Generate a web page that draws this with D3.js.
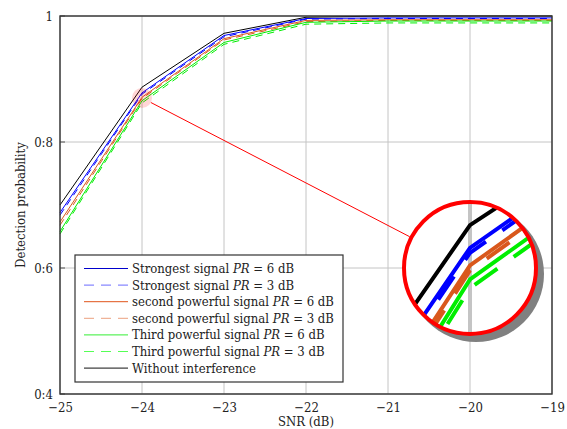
<!DOCTYPE html>
<html>
<head>
<meta charset="utf-8">
<script src="https://cdn.jsdelivr.net/npm/d3@7/dist/d3.min.js"></script>
<style>
  html, body { margin: 0; padding: 0; background: #fff; }
  svg { display: block; }
</style>
</head>
<body>
<svg id="chart" width="567" height="429" font-family="'DejaVu Serif Condensed', 'DejaVu Serif', serif"></svg>
<script>
// SNR values (dB) on the x axis
const snr = [-25, -24, -23, -22, -21, -20, -19];

// Detection probability for each scenario
const pdStrong6  = [0.688, 0.878, 0.969, 0.996, 0.997, 0.997, 0.997];
const pdStrong3  = [0.684, 0.876, 0.967, 0.995, 0.996, 0.996, 0.996];
const pdSecond6  = [0.673, 0.871, 0.964, 0.993, 0.994, 0.994, 0.994];
const pdSecond3  = [0.668, 0.869, 0.962, 0.991, 0.993, 0.993, 0.993];
const pdThird6   = [0.658, 0.8655, 0.958, 0.990, 0.992, 0.992, 0.992];
const pdThird3   = [0.654, 0.862, 0.955, 0.987, 0.989, 0.989, 0.989];
const pdNoInterf = [0.700, 0.887, 0.9725, 0.998, 1.000, 1.000, 1.000];

const seriesNames = [
  ["Strongest signal ", "PR", " = 6 dB"],
  ["Strongest signal ", "PR", " = 3 dB"],
  ["second powerful signal ", "PR", " = 6 dB"],
  ["second powerful signal ", "PR", " = 3 dB"],
  ["Third powerful signal ", "PR", " = 6 dB"],
  ["Third powerful signal ", "PR", " = 3 dB"],
  ["Without interference", "", ""]
];
const seriesValues = [pdStrong6, pdStrong3, pdSecond6, pdSecond3, pdThird6, pdThird3, pdNoInterf];
const seriesColors = ["#0000ff", "#0000ff", "#d9581c", "#d9581c", "#00ee00", "#00ee00", "#000000"];
const legendColors = ["#0000cc", "#6a6aff", "#e0541b", "#eba07f", "#33ee33", "#55ff55", "#111111"];
const seriesDashed = [false, true, false, true, false, true, false];

const xTicks = [-25, -24, -23, -22, -21, -20, -19];
const yTicks = [0.4, 0.6, 0.8, 1];
const yTickLabels = ["0:4", "0:6", "0:8", "1"];

// Magnified view: data point at its centre, magnification, placement
const spyCenter = { snr: -24, pd: 0.870 };
const spyFactor = 4;
const spyTarget = { x: 470, y: 268, r: 66 };

const svg = d3.select("#chart");
const plot = { left: 60, right: 552, top: 16, bottom: 394 };
const FONT = "'DejaVu Serif Condensed', 'DejaVu Serif', serif";

const x = d3.scaleLinear().domain([-25, -19]).range([plot.left, plot.right]);
const y = d3.scaleLinear().domain([0.4, 1]).range([plot.bottom, plot.top]);

const line = d3.line().x((d, i) => x(snr[i])).y(d => y(d));

// grid
function drawGrid(g) {
  g.selectAll(".gx").data(xTicks).join("line")
    .attr("x1", d => x(d)).attr("x2", d => x(d))
    .attr("y1", plot.top).attr("y2", plot.bottom)
    .attr("stroke", "#c4c4c4").attr("stroke-width", 1);
  g.selectAll(".gy").data(yTicks).join("line")
    .attr("y1", d => y(d)).attr("y2", d => y(d))
    .attr("x1", plot.left).attr("x2", plot.right)
    .attr("stroke", "#c4c4c4").attr("stroke-width", 1);
}
function drawSeries(g) {
  g.selectAll("path.series").data(seriesValues).join("path")
    .attr("class", "series")
    .attr("d", d => line(d))
    .attr("fill", "none")
    .attr("stroke", (d, i) => seriesColors[i])
    .attr("stroke-width", 1)
    .attr("stroke-dasharray", (d, i) => seriesDashed[i] ? "7,5" : null);
}

const gridG = svg.append("g");
drawGrid(gridG);

const linesG = svg.append("g");
drawSeries(linesG);

// axes
const xAxis = d3.axisBottom(x).tickValues(xTicks).tickSize(0).tickPadding(9)
  .tickFormat(d => (d < 0 ? "\u2212" : "") + Math.abs(d));
svg.append("g").attr("transform", `translate(0,${plot.bottom})`).call(xAxis)
  .attr("font-family", FONT).attr("font-size", 13)
  .call(g => g.select(".domain").remove())
  .selectAll("text").attr("fill", "#222");

const yAxis = d3.axisLeft(y).tickValues(yTicks).tickSize(0).tickPadding(7)
  .tickFormat((d, i) => yTickLabels[i]);
svg.append("g").attr("transform", `translate(${plot.left},0)`).call(yAxis)
  .attr("font-family", FONT).attr("font-size", 13)
  .call(g => g.select(".domain").remove())
  .selectAll("text").attr("fill", "#222");

// inward tick marks
svg.append("g").selectAll("line").data(yTicks).join("line")
  .attr("x1", plot.left).attr("x2", plot.left + 5)
  .attr("y1", d => y(d)).attr("y2", d => y(d))
  .attr("stroke", "#555").attr("stroke-width", 1);

// frame
svg.append("rect")
  .attr("x", plot.left).attr("y", plot.top)
  .attr("width", plot.right - plot.left).attr("height", plot.bottom - plot.top)
  .attr("fill", "none").attr("stroke", "#333").attr("stroke-width", 1.4);

// axis titles
svg.append("text").attr("x", (plot.left + plot.right) / 2).attr("y", 426)
  .attr("text-anchor", "middle").attr("font-size", 13).attr("fill", "#222").text("SNR (dB)");
svg.append("text").attr("transform", `translate(25,${(plot.top + plot.bottom) / 2}) rotate(-90)`)
  .attr("text-anchor", "middle").attr("font-size", 13).attr("fill", "#222").text("Detection probability");

// spy: source marker, connector, magnified circle
const sx = x(spyCenter.snr), sy = y(spyCenter.pd);
const srcR = 10;
const dx = spyTarget.x - sx, dy = spyTarget.y - sy, dist = Math.hypot(dx, dy);
const ux = dx / dist, uy = dy / dist;

svg.append("circle").attr("cx", sx).attr("cy", sy).attr("r", srcR)
  .attr("fill", "#ff0000").attr("fill-opacity", 0.16);
svg.append("line")
  .attr("x1", sx + ux * srcR).attr("y1", sy + uy * srcR)
  .attr("x2", spyTarget.x - ux * (spyTarget.r + 2)).attr("y2", spyTarget.y - uy * (spyTarget.r + 2))
  .attr("stroke", "#ff0000").attr("stroke-width", 1);

const defs = svg.append("defs");
defs.append("clipPath").attr("id", "spyClip")
  .append("circle").attr("cx", spyTarget.x).attr("cy", spyTarget.y).attr("r", spyTarget.r);

// shadow
svg.append("circle").attr("cx", spyTarget.x + 6).attr("cy", spyTarget.y + 6).attr("r", spyTarget.r + 2)
  .attr("fill", "#808080");
svg.append("circle").attr("cx", spyTarget.x).attr("cy", spyTarget.y).attr("r", spyTarget.r)
  .attr("fill", "#fff");

const spyG = svg.append("g").attr("clip-path", "url(#spyClip)")
  .append("g")
  .attr("transform", `translate(${spyTarget.x},${spyTarget.y}) scale(${spyFactor}) translate(${-sx},${-sy})`);
drawGrid(spyG.append("g"));
drawSeries(spyG.append("g"));

svg.append("circle").attr("cx", spyTarget.x).attr("cy", spyTarget.y).attr("r", spyTarget.r)
  .attr("fill", "none").attr("stroke", "#ff0000").attr("stroke-width", 4);

// legend
const lg = svg.append("g");
const lgBox = { x: 75, y: 255, w: 268, h: 127 };
lg.append("rect").attr("x", lgBox.x).attr("y", lgBox.y).attr("width", lgBox.w).attr("height", lgBox.h)
  .attr("fill", "#fff").attr("stroke", "#333").attr("stroke-width", 1.2);
const rowY = i => 268.5 + i * 16.6;
seriesNames.forEach((name, i) => {
  lg.append("line").attr("x1", 84).attr("x2", 128).attr("y1", rowY(i)).attr("y2", rowY(i))
    .attr("stroke", legendColors[i]).attr("stroke-width", 1)
    .attr("stroke-dasharray", seriesDashed[i] ? "10,7" : null);
  const t = lg.append("text").attr("x", 132).attr("y", rowY(i) + 4.5)
    .attr("font-size", 13).attr("fill", "#222");
  t.append("tspan").text(name[0]);
  if (name[1]) {
    t.append("tspan").attr("font-style", "italic").text(name[1]);
    t.append("tspan").text(name[2]);
  }
});
</script>
</body>
</html>
